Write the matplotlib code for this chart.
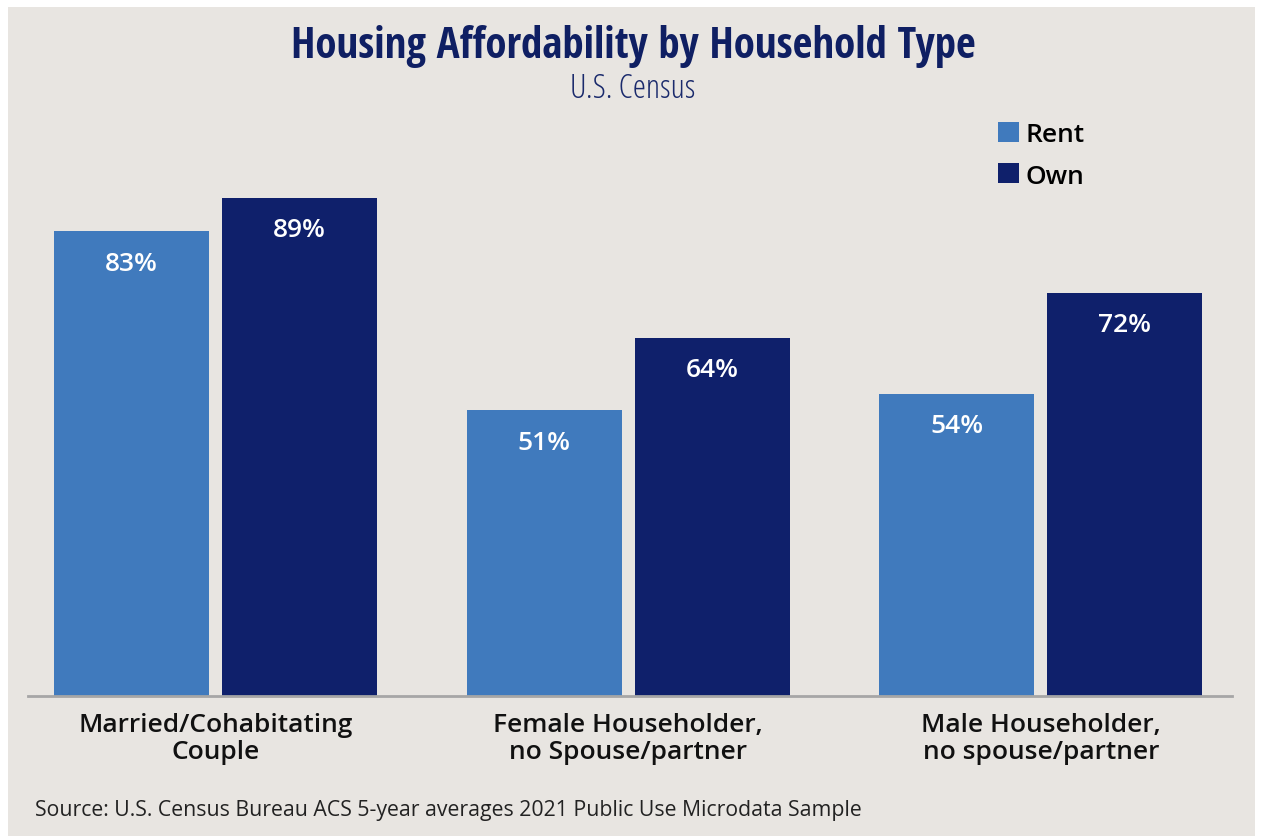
import matplotlib
matplotlib.use("Agg")
import matplotlib.pyplot as plt
from matplotlib.patches import Rectangle, Patch
import numpy as np

categories = ["Married/Cohabitating\nCouple", "Female Householder,\nno Spouse/partner", "Male Householder,\nno spouse/partner"]
rent = [83, 51, 54]
own = [89, 64, 72]
series_names = ["Rent", "Own"]

RENT_C = "#407abd"
OWN_C = "#0f206b"
BG = "#e8e5e1"
NAVY = "#0f1f63"

W, H = 1263, 837
fig = plt.figure(figsize=(W / 100, H / 100), dpi=100, facecolor="white")
fig.patches.append(Rectangle((8 / W, 0), (1255 - 8) / W, (837 - 8) / H,
                             transform=fig.transFigure, facecolor=BG, edgecolor="none", zorder=-5))

ax = fig.add_axes([28 / W, 140 / H, (1232 - 28) / W, 560 / H])
ax.set_facecolor("none")

x = np.arange(len(categories))
bw = 0.3755
off = 0.2035
b1 = ax.bar(x - off, rent, bw, color=RENT_C, label=series_names[0], zorder=2)
b2 = ax.bar(x + off, own, bw, color=OWN_C, label=series_names[1], zorder=2)

for bars, vals in ((b1, rent), (b2, own)):
    for r, v in zip(bars, vals):
        ax.annotate(f"{v}%", (r.get_x() + r.get_width() / 2, v), xytext=(0, -23),
                    textcoords="offset points", ha="center", va="center",
                    color="white", fontsize=19, fontweight="semibold", family="Open Sans")

ax.set_xlim(-0.454, 2.463)
ax.set_ylim(0, 100)
ax.set_yticks([])
ax.set_xticks(x)
ax.set_xticklabels(categories, fontsize=19, fontweight="semibold", family="Open Sans",
                   color="#111111", linespacing=1.1)
ax.tick_params(axis="x", length=0, pad=11.5)
for s in ("top", "right", "left"):
    ax.spines[s].set_visible(False)
ax.spines["bottom"].set_color("#a6a6a6")
ax.spines["bottom"].set_linewidth(2)
ax.spines["bottom"].set_zorder(3)

handles = [Patch(facecolor=RENT_C), Patch(facecolor=OWN_C)]
leg = fig.legend(handles, series_names, loc="upper left", bbox_to_anchor=(985 / W, 1 - 110 / H),
                 frameon=False, borderpad=0, handlelength=0.8, handleheight=0.8,
                 handletextpad=0.25, labelspacing=0.6,
                 prop={"family": "Open Sans", "weight": "semibold", "size": 19})

fig.text(633 / W, 1 - 58 / H, "Housing Affordability by Household Type", ha="center", va="baseline",
         fontsize=31, fontweight="bold", family="Open Sans Condensed", color=NAVY)
fig.text(633 / W, 1 - 98 / H, "U.S. Census", ha="center", va="baseline",
         fontsize=24, fontweight="light", fontstretch="condensed", family="Open Sans", color="#1a2a6c")
fig.text(35 / W, 21 / H, "Source: U.S. Census Bureau ACS 5-year averages 2021 Public Use Microdata Sample",
         ha="left", va="baseline", fontsize=15.3, family="Open Sans", color="#222222")

fig.savefig("out.png", dpi=100, facecolor="white")
